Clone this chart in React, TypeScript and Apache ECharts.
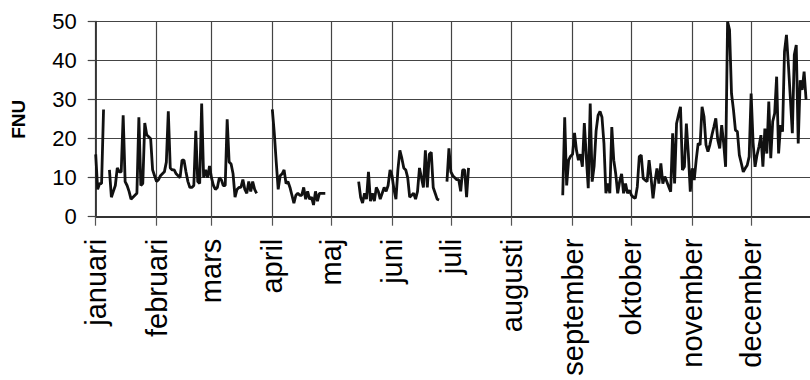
import React, { useEffect, useRef } from "react";
import * as echarts from "echarts";

const months = ["januari", "februari", "mars", "april", "maj", "juni", "juli", "augusti", "september", "oktober", "november", "december"];
const monthLengths = [31, 28, 31, 30, 31, 30, 31, 31, 30, 31, 30, 31];
const yTicks = [0, 10, 20, 30, 40, 50];
const yName = "FNU";

const jan = [16, 7, 8.5, 8.5, 27.5, null, null, 12, 5, 6.5, 8, 12.5, 11.5, 11.5, 26, 9, 8, 6.5, 4.5, 5, 5.5, 6, 25.5, 8, 8.5, 24, 21, 20.5, 20, 12, 10.5];
const feb = [9, 9.5, 10.5, 11, 11.5, 14, 27, 12.5, 12, 12, 11, 10.5, 10, 14.5, 14.5, 11.5, 9, 7.5, 7.5, 8, 22, 9, 8.5, 29, 10, 12, 10, 13];
const mar = [10, 8, 7, 7.5, 10, 9.5, 8, 8, 25, 14, 13.5, 11, 5, 7, 7.5, 7.5, 9.5, 7, 6, 9, 6.5, 9, 7, 6, null, null, null, null, null, null, null];
const apr = [27.5, 21.5, 14, 7, 10.5, 11, 12, 8.5, 9, 7.5, 5.5, 3.5, 5.5, 6, 5.5, 5.5, 7.5, 4.5, 6.5, 4.5, 5, 3, 6.5, 4, 6, 6, 6, 6, null, null];
const may = [null, null, null, null, null, null, null, null, null, null, null, null, null, null, 9, 5, 3.5, 6, 4.5, 11.5, 4, 6, 4, 7.5, 6.5, 4.5, 6, 7.5, 6.5, 8, 12];
const jun = [10.5, 7, 4.5, 12, 17, 15, 12.5, 12, 10, 5, 5.5, 6, 4.5, 6.5, 12.5, 10, 7.5, 17, 7.5, 16, 16.5, 7.5, 6, 4.5, 4.3, null, null, null, 9, 17.5];
const jul = [11.5, 10.5, 10, 9.5, 9.5, 6.5, 12, 12, 5, 12.5, null, null, null, null, null, null, null, null, null, null, null, null, null, null, null, null, null, null, null, null, null];
const aug = [null, null, null, null, null, null, null, null, null, null, null, null, null, null, null, null, null, null, null, null, null, null, null, null, null, null, 5.5, 25.5, 8, 14.5, 15.5];
const sep = [16, 21.5, 17, 14.5, 16, 12.8, 24, 15.4, 7.3, 29, 9, 13, 22, 26, 27, 25.5, 18.8, 6, 8.5, 6, 23, 14.5, 11, 6, 9, 11, 6, 8.5, 6, 6.8];
const oct = [5.5, 5, 4.7, 7.7, 15.4, 15.8, 9.8, 9.4, 9, 14.5, 10, 4.7, 9, 12.4, 8.5, 13.7, 8.5, 10.3, 9, 7.7, 6.4, 21.4, 8.5, 23.9, 26.1, 28.2, 12, 12.8, 23.9, 16.2, 6.4];
const nov = [12.4, 9.4, 14.5, 18.8, 18.4, 28.2, 25.6, 18.4, 16.7, 18.5, 20.9, 23, 25.2, 19.7, 17.5, 23.5, 18.8, 12.8, 50, 47.9, 31.6, 27.4, 22.2, 21.8, 15.8, 13.7, 11.5, 12.4, 13.2, 15.4];
const dec = [31.6, 19, 12.8, 15.8, 18, 20.9, 12.8, 22.6, 16.2, 29.5, 15, 24.4, 26.5, 35.9, 16.2, 23.5, 21.8, 42.3, 46.6, 38.9, 30.3, 21.4, 41.5, 44, 18.8, 35, 32.5, 37.2, 30, null, null];

const monthValues = [jan, feb, mar, apr, may, jun, jul, aug, sep, oct, nov, dec];

export default function App() {
  const ref = useRef<HTMLDivElement>(null);
  useEffect(() => {
    if (!ref.current) return;
    const chart = echarts.init(ref.current, undefined, { renderer: "svg" });
    const days: string[] = [];
    const values: (number | null)[] = [];
    const starts = new Set<number>();
    monthLengths.forEach((len, m) => {
      starts.add(days.length);
      for (let d = 0; d < len; d++) {
        days.push(months[m] + " " + (d + 1));
        values.push(monthValues[m][d] ?? null);
      }
    });
    const isStart = (i: number) => starts.has(i);
    const font = "'Liberation Sans', Arial, sans-serif";
    chart.setOption({
      animation: false,
      grid: { left: 95.7, top: 21.7, bottom: 163.3, right: -4.2, containLabel: false },
      xAxis: {
        type: "category",
        data: days,
        boundaryGap: false,
        axisLine: { show: true, lineStyle: { color: "#333", width: 1.8 } },
        axisTick: { show: true, interval: isStart, length: 9, lineStyle: { color: "#555", width: 1.2 } },
        axisLabel: {
          interval: isStart,
          rotate: 90,
          margin: 22,
          fontSize: 29,
          fontFamily: font,
          color: "#000",
          padding: [8, 0, 0, 0],
          formatter: (v: string) => v.split(" ")[0],
        },
        splitLine: { show: true, interval: isStart, lineStyle: { color: "#444", width: 1.2 } },
      },
      yAxis: {
        type: "value",
        min: yTicks[0],
        max: yTicks[yTicks.length - 1],
        interval: 10,
        name: yName,
        nameLocation: "middle",
        nameGap: 68,
        nameRotate: 90,
        nameTextStyle: { fontSize: 19, fontWeight: "bold", fontFamily: font, color: "#000" },
        axisLine: { show: true, lineStyle: { color: "#333", width: 1.8 } },
        axisTick: { show: true, length: 8, lineStyle: { color: "#444", width: 1.2 } },
        axisLabel: { margin: 19, fontSize: 22, fontFamily: font, color: "#000" },
        splitLine: { show: true, lineStyle: { color: "#444", width: 1.2 } },
      },
      series: [
        {
          type: "line",
          data: values,
          showSymbol: false,
          connectNulls: false,
          lineStyle: { color: "#111", width: 2.8 },
        },
      ],
    });
    return () => chart.dispose();
  }, []);
  return <div ref={ref} style={{ position: "absolute", left: 0, top: 0, width: 810, height: 380 }} />;
}
